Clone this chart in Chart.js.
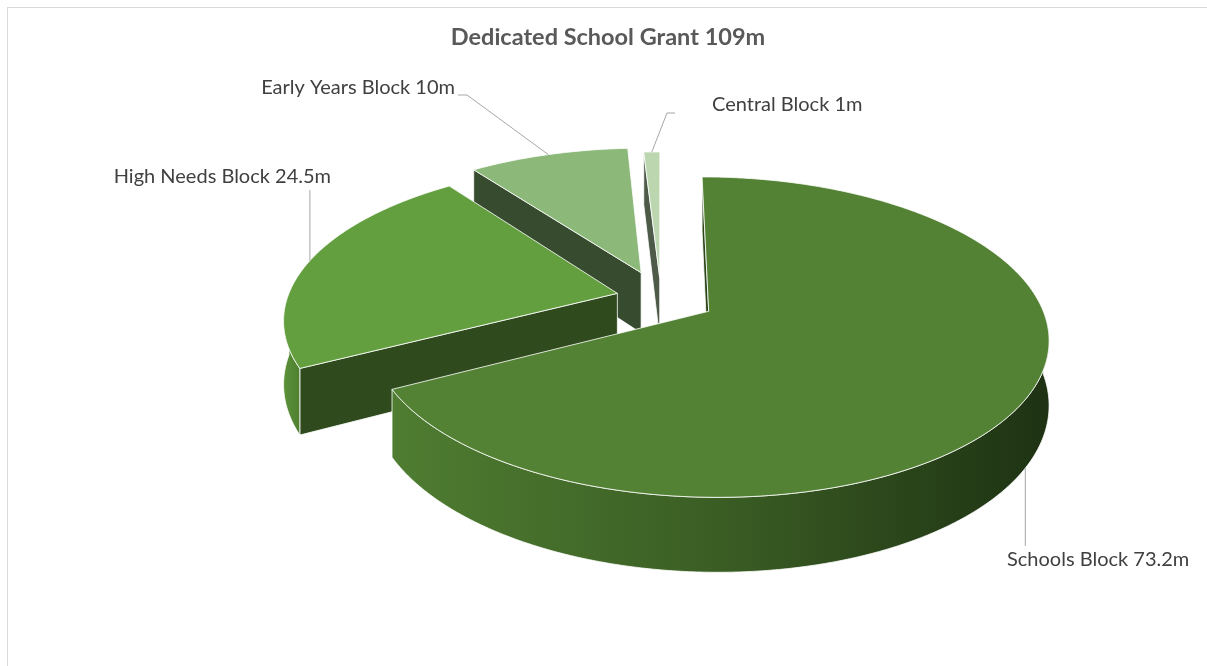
<!DOCTYPE html>
<html>
<head>
<meta charset="utf-8">
<script src="https://cdn.jsdelivr.net/npm/chart.js@4.4.1/dist/chart.umd.min.js"></script>
<style>
html, body { margin: 0; padding: 0; background: #fff; overflow: hidden; }
#wrap { position: relative; width: 1207px; height: 666px; }
#frame { position: absolute; left: 7px; top: 7px; width: 1300px; height: 800px; border: 1.5px solid #d9d9d9; box-sizing: border-box; }
#title { position: absolute; left: 0; top: 22px; width: 1216px; line-height: 30px; text-align: center;
         font: bold 23.5px Lato, sans-serif; color: #595959; }
#chart { position: absolute; left: 0; top: 0; }
</style>
</head>
<body>
<div id="wrap">
  <div id="frame"></div>
  <canvas id="chart" width="1207" height="666"></canvas>
  <div id="title">Dedicated School Grant 109m</div>
</div>
<script>
// data
const categories = ['Schools Block', 'High Needs Block', 'Early Years Block', 'Central Block'];
const values = [73.2, 24.5, 10, 1];
const unit = 'm';

// look of the slices
const topColors = ['#548235', '#639f3e', '#8cb879', '#bcd6b0'];
const radialColors = ['#2b4719', '#2f4a1d', '#374b2f', '#4d5a48'];
const rimColors = [['#4f7d31', '#3a5d24', '#1e3213'], ['#5b9138', '#4f8030'], ['#7aa866', '#6a955a'], ['#a9c69c', '#98b58b']];
const explode = [55, 45, 60, 45];
const TILT = 0.46, PERSP = 0.159, DEPTH = 62;

// where the data labels sit
const labelBoxes = [
    { x: 1007, y: 560, align: 'left', lead: 'down' },
    { x: 331, y: 177, align: 'right', lead: 'up' },
    { x: 455, y: 88, align: 'right', elbow: [[467, 95], [458, 95]] },
    { x: 712, y: 105, align: 'left', elbow: [[667, 113], [675, 113]] },
];

function project(s, ang, r, down) {
    const X = s.ox + Math.cos(ang) * r;
    const Y = s.oy + Math.sin(ang) * r;
    const w = 1 / (1 - PERSP * Y / s.outerRadius);
    return [s.x + X * w, s.y + Y * TILT * w + down * w];
}

function rimPoints(s, a, b, down) {
    const pts = [];
    const n = Math.max(2, Math.ceil(Math.abs(b - a) / 0.01));
    for (let k = 0; k <= n; k++) {
        pts.push(project(s, a + (b - a) * k / n, s.outerRadius, down));
    }
    return pts;
}

function poly(ctx, pts, fill) {
    ctx.beginPath();
    pts.forEach((p, k) => k ? ctx.lineTo(p[0], p[1]) : ctx.moveTo(p[0], p[1]));
    ctx.closePath();
    ctx.fillStyle = fill;
    ctx.fill();
    ctx.stroke();
}

const pie3d = {
    id: 'pie3d',
    beforeDatasetsDraw(chart) {
        const ctx = chart.ctx;
        const meta = chart.getDatasetMeta(0);
        const slices = meta.data.map((arc, i) => {
            const p = arc.getProps(['x', 'y', 'startAngle', 'endAngle', 'outerRadius'], true);
            const off = arc.options.offset;
            const mid = (p.startAngle + p.endAngle) / 2;
            return { i, ...p, mid, ox: Math.cos(mid) * off, oy: Math.sin(mid) * off };
        });
        chart.$slices = slices;

        // paint back to front
        const order = slices.slice().sort((a, b) => Math.sin(a.mid) - Math.sin(b.mid));
        ctx.save();
        ctx.lineWidth = 1;
        ctx.lineJoin = 'round';
        ctx.strokeStyle = 'rgba(255,255,255,0.8)';
        order.forEach(s => {
            const apexTop = project(s, 0, 0, 0);
            const apexBot = project(s, 0, 0, DEPTH);
            // flat cut faces
            if (Math.cos(s.startAngle) < 0.01) {
                poly(ctx, [apexTop, project(s, s.startAngle, s.outerRadius, 0),
                    project(s, s.startAngle, s.outerRadius, DEPTH), apexBot], radialColors[s.i]);
            }
            if (Math.cos(s.endAngle) > 0.01) {
                poly(ctx, [apexTop, project(s, s.endAngle, s.outerRadius, 0),
                    project(s, s.endAngle, s.outerRadius, DEPTH), apexBot], radialColors[s.i]);
            }
            // curved outer wall, front half only
            for (let k = -1; k <= 1; k++) {
                const a = Math.max(s.startAngle, k * 2 * Math.PI);
                const b = Math.min(s.endAngle, k * 2 * Math.PI + Math.PI);
                if (b - a <= 0.001) continue;
                const top = rimPoints(s, a, b, 0);
                const bot = rimPoints(s, a, b, DEPTH).reverse();
                const pts = top.concat(bot);
                const xs = pts.map(p => p[0]);
                const g = ctx.createLinearGradient(Math.min(...xs), 0, Math.max(...xs), 0);
                const cols = rimColors[s.i];
                cols.forEach((c, j) => g.addColorStop(j / (cols.length - 1), c));
                poly(ctx, pts, g);
            }
            // top face
            poly(ctx, [apexTop].concat(rimPoints(s, s.startAngle, s.endAngle, 0)), topColors[s.i]);
        });
        ctx.restore();
        return false;
    },
    afterDraw(chart) {
        const ctx = chart.ctx;
        const slices = chart.$slices;
        if (!slices) return;
        ctx.save();
        ctx.font = '20px Lato, sans-serif';
        ctx.textBaseline = 'middle';
        ctx.strokeStyle = '#a6a6a6';
        ctx.lineWidth = 1;
        slices.forEach(s => {
            const box = labelBoxes[s.i];
            const rim = project(s, s.mid, s.outerRadius, box.lead === 'down' ? DEPTH : 0);
            ctx.beginPath();
            ctx.moveTo(rim[0], rim[1]);
            if (box.lead === 'down') ctx.lineTo(rim[0], box.y - 14);
            else if (box.lead === 'up') ctx.lineTo(rim[0], box.y + 13);
            else box.elbow.forEach(p => ctx.lineTo(p[0], p[1]));
            ctx.stroke();
            ctx.fillStyle = '#404040';
            ctx.textAlign = box.align;
            ctx.fillText(`${categories[s.i]} ${values[s.i]}${unit}`, box.x, box.y);
        });
        ctx.restore();
    }
};

new Chart(document.getElementById('chart'), {
    type: 'pie',
    data: {
        labels: categories,
        datasets: [{
            data: values,
            backgroundColor: topColors,
            offset: explode,
            borderWidth: 0,
        }],
    },
    options: {
        responsive: false,
        devicePixelRatio: 1,
        animation: false,
        radius: 330,
        layout: { padding: { left: 115, right: 0, top: 0, bottom: 70 } },
        plugins: {
            legend: { display: false },
            tooltip: { enabled: false },
        },
    },
    plugins: [pie3d],
});
</script>
</body>
</html>
